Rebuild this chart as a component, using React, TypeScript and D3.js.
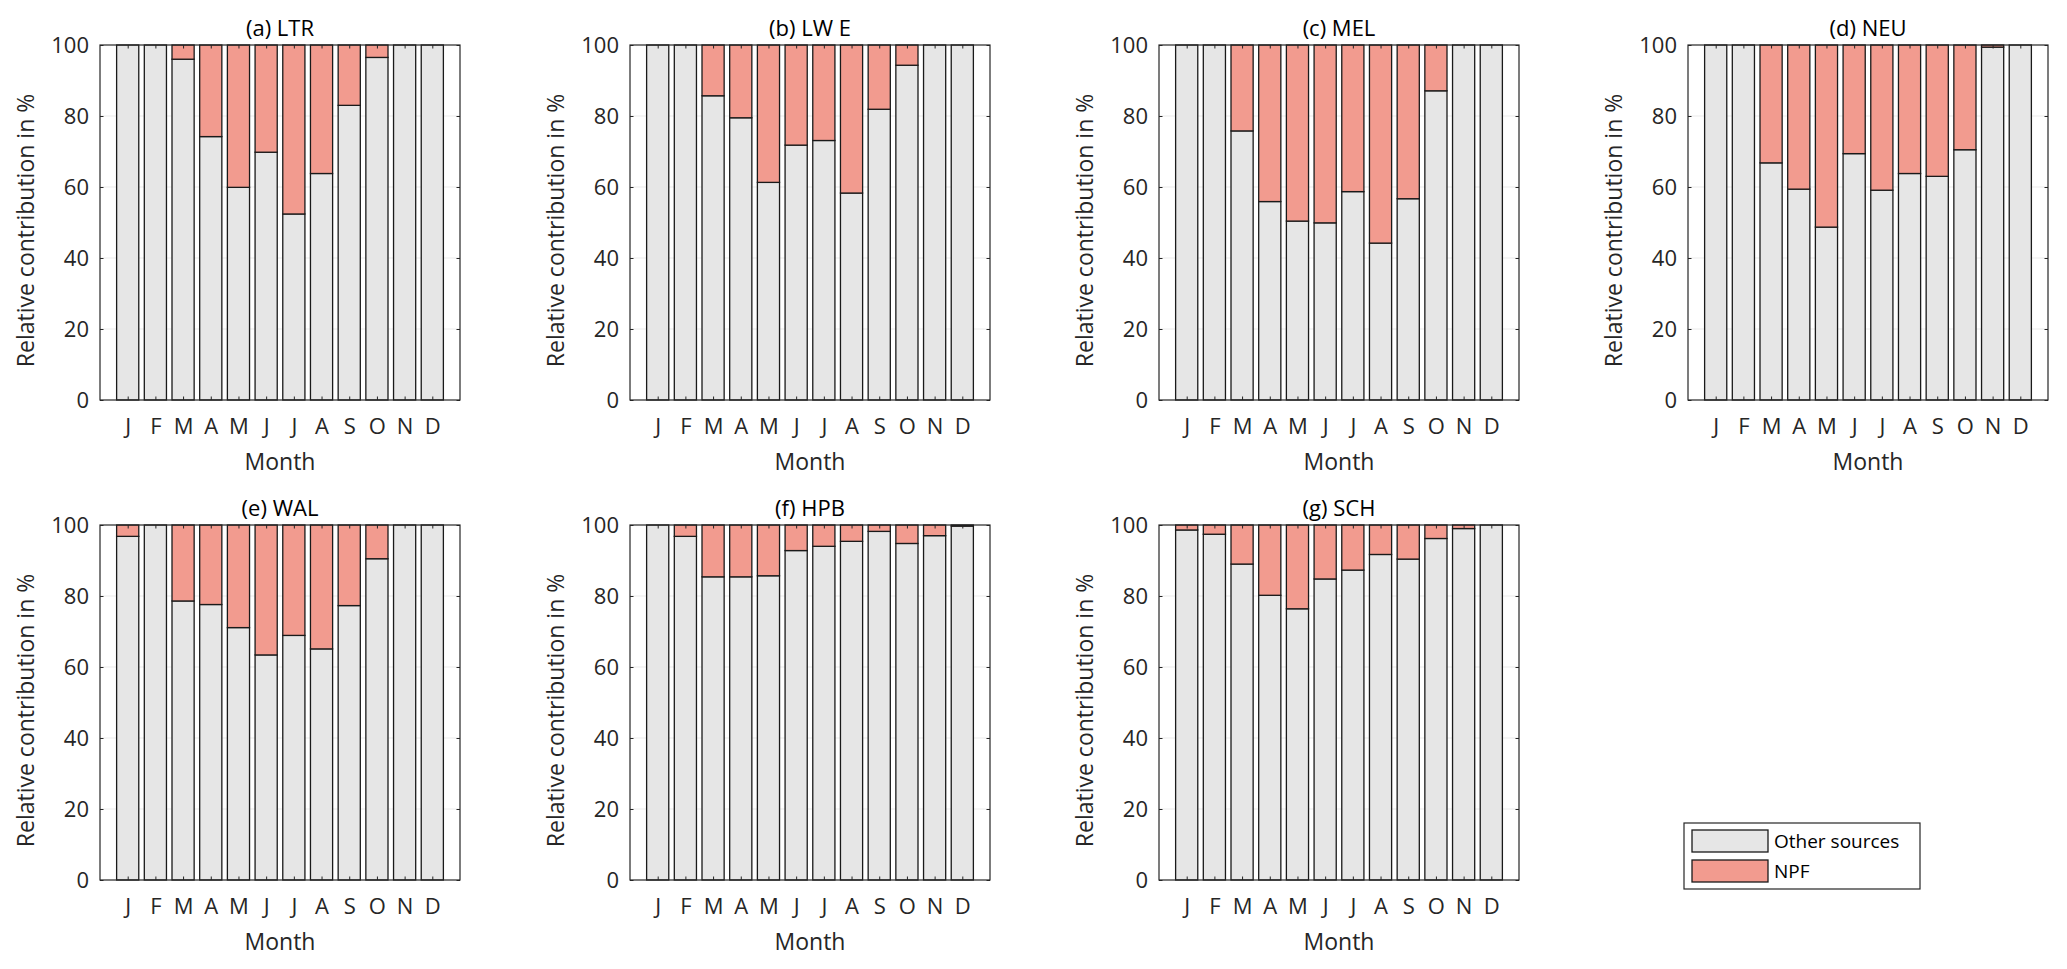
import React, { useEffect, useRef } from "react";
import * as d3 from "d3";

// month ticks
const months = ["J", "F", "M", "A", "M", "J", "J", "A", "S", "O", "N", "D"];
const yTicks = [0, 20, 40, 60, 80, 100];
const seriesNames = ["Other sources", "NPF"];

// relative contribution (%), per site
const ltrOther = [100, 100, 96.0, 74.2, 59.9, 69.8, 52.4, 63.8, 83.0, 96.5, 100, 100];
const ltrNpf = [0, 0, 4.0, 25.8, 40.1, 30.2, 47.6, 36.2, 17.0, 3.5, 0, 0];

const lweOther = [100, 100, 85.7, 79.5, 61.3, 71.8, 73.1, 58.3, 81.9, 94.3, 100, 100];
const lweNpf = [0, 0, 14.3, 20.5, 38.7, 28.2, 26.9, 41.7, 18.1, 5.7, 0, 0];

const melOther = [100, 100, 75.8, 55.9, 50.4, 49.9, 58.7, 44.2, 56.7, 87.1, 100, 100];
const melNpf = [0, 0, 24.2, 44.1, 49.6, 50.1, 41.3, 55.8, 43.3, 12.9, 0, 0];

const neuOther = [100, 100, 66.8, 59.4, 48.7, 69.4, 59.1, 63.8, 63.0, 70.5, 99.4, 100];
const neuNpf = [0, 0, 33.2, 40.6, 51.3, 30.6, 40.9, 36.2, 37.0, 29.5, 0.6, 0];

const walOther = [96.8, 100, 78.6, 77.6, 71.1, 63.4, 68.9, 65.1, 77.3, 90.5, 100, 100];
const walNpf = [3.2, 0, 21.4, 22.4, 28.9, 36.6, 31.1, 34.9, 22.7, 9.5, 0, 0];

const hpbOther = [100, 96.8, 85.4, 85.4, 85.7, 92.8, 94.0, 95.4, 98.2, 94.8, 97.0, 99.7];
const hpbNpf = [0, 3.2, 14.6, 14.6, 14.3, 7.2, 6.0, 4.6, 1.8, 5.2, 3.0, 0.3];

const schOther = [98.6, 97.4, 89.0, 80.2, 76.4, 84.8, 87.3, 91.7, 90.4, 96.2, 99.0, 100];
const schNpf = [1.4, 2.6, 11.0, 19.8, 23.6, 15.2, 12.7, 8.3, 9.6, 3.8, 1.0, 0];

const panels = [
  { title: "(a) LTR", other: ltrOther, npf: ltrNpf },
  { title: "(b) LW E", other: lweOther, npf: lweNpf },
  { title: "(c) MEL", other: melOther, npf: melNpf },
  { title: "(d) NEU", other: neuOther, npf: neuNpf },
  { title: "(e) WAL", other: walOther, npf: walNpf },
  { title: "(f) HPB", other: hpbOther, npf: hpbNpf },
  { title: "(g) SCH", other: schOther, npf: schNpf },
];

const colors = ["#e6e6e6", "#f29b8f"];
const textColor = "#262626";
const font = "'Open Sans', sans-serif";

function draw(el: SVGSVGElement) {
  const svg = d3.select(el);
  svg.selectAll("*").remove();

  const colLeft = [100, 630, 1159, 1688];
  const rowTop = [45, 525];
  const w = 360;
  const h = 355;

  panels.forEach((p, k) => {
    const left = colLeft[k % 4];
    const top = rowTop[Math.floor(k / 4)];

    const x = d3.scaleLinear().domain([0, 13]).range([left, left + w]);
    const y = d3.scaleLinear().domain([0, 100]).range([top + h, top]);
    const bw = x(0.8) - x(0);

    const g = svg.append("g");

    // grid (only shows in the gaps)
    g.append("g")
      .selectAll("line")
      .data(yTicks.slice(1, -1))
      .join("line")
      .attr("x1", left)
      .attr("x2", left + w)
      .attr("y1", (d) => y(d))
      .attr("y2", (d) => y(d))
      .attr("stroke", "#ebebeb")
      .attr("stroke-width", 1);

    const rows = months.map((m, i) => ({ i, other: p.other[i], npf: p.npf[i] }));
    const stacked = d3.stack<any>().keys(["other", "npf"])(rows);

    stacked.forEach((layer, si) => {
      g.append("g")
        .selectAll("rect")
        .data(layer.filter((d) => d[1] - d[0] > 0))
        .join("rect")
        .attr("x", (d) => x(d.data.i + 1) - bw / 2)
        .attr("width", bw)
        .attr("y", (d) => y(d[1]))
        .attr("height", (d) => y(d[0]) - y(d[1]))
        .attr("fill", colors[si])
        .attr("stroke", "#1a1a1a")
        .attr("stroke-width", 1.3);
    });

    // axes
    const xAxis = d3
      .axisBottom(x)
      .tickValues(d3.range(1, 13))
      .tickFormat((d: any) => months[d - 1])
      .tickSize(-3.5)
      .tickSizeOuter(0)
      .tickPadding(18);
    const xTop = d3.axisTop(x).tickValues(d3.range(1, 13)).tickFormat(() => "").tickSize(-3.5).tickSizeOuter(0);
    const yAxis = d3.axisLeft(y).tickValues(yTicks).tickSize(-3.5).tickSizeOuter(0).tickPadding(11);
    const yRight = d3.axisRight(y).tickValues(yTicks).tickFormat(() => "").tickSize(-3.5).tickSizeOuter(0);

    const style = (a: any) => {
      a.select(".domain").remove();
      a.selectAll("line").attr("stroke", textColor).attr("stroke-width", 1);
      a.selectAll("text").attr("fill", textColor).style("font-family", font).style("font-size", "22px");
    };

    g.append("g").attr("transform", `translate(0,${top + h})`).call(xAxis).call(style);
    g.append("g").attr("transform", `translate(0,${top})`).call(xTop).call(style);
    g.append("g").attr("transform", `translate(${left},0)`).call(yAxis).call(style);
    g.append("g").attr("transform", `translate(${left + w},0)`).call(yRight).call(style);

    g.append("rect")
      .attr("x", left)
      .attr("y", top)
      .attr("width", w)
      .attr("height", h)
      .attr("fill", "none")
      .attr("stroke", textColor)
      .attr("stroke-width", 1.2);

    g.append("text")
      .attr("x", left + w / 2)
      .attr("y", top - 9)
      .attr("text-anchor", "middle")
      .attr("fill", "#000")
      .style("font-family", font)
      .style("font-size", "22px")
      .text(p.title);

    g.append("text")
      .attr("x", left + w / 2)
      .attr("y", top + h + 70)
      .attr("text-anchor", "middle")
      .attr("fill", textColor)
      .style("font-family", font)
      .style("font-size", "23px")
      .text("Month");

    g.append("text")
      .attr("transform", `translate(${left - 66},${top + h / 2 + 8}) rotate(-90)`)
      .attr("text-anchor", "middle")
      .attr("fill", textColor)
      .style("font-family", font)
      .style("font-size", "23px")
      .text("Relative contribution in %");
  });

  // legend
  const lg = svg.append("g");
  lg.append("rect")
    .attr("x", 1684)
    .attr("y", 823)
    .attr("width", 236)
    .attr("height", 66)
    .attr("fill", "#fff")
    .attr("stroke", "#262626")
    .attr("stroke-width", 1.2);
  seriesNames.forEach((name, i) => {
    lg.append("rect")
      .attr("x", 1692)
      .attr("y", 830 + i * 30)
      .attr("width", 76)
      .attr("height", 22)
      .attr("fill", colors[i])
      .attr("stroke", "#1a1a1a")
      .attr("stroke-width", 1.3);
    lg.append("text")
      .attr("x", 1774)
      .attr("y", 848 + i * 30)
      .attr("fill", "#000")
      .style("font-family", font)
      .style("font-size", "19px")
      .text(name);
  });
}

export default function App() {
  const ref = useRef<SVGSVGElement>(null);
  useEffect(() => {
    if (ref.current) draw(ref.current);
  }, []);
  return (
    <svg
      ref={ref}
      width={2067}
      height={969}
      style={{ position: "absolute", left: 0, top: 0, background: "#fff" }}
    />
  );
}
